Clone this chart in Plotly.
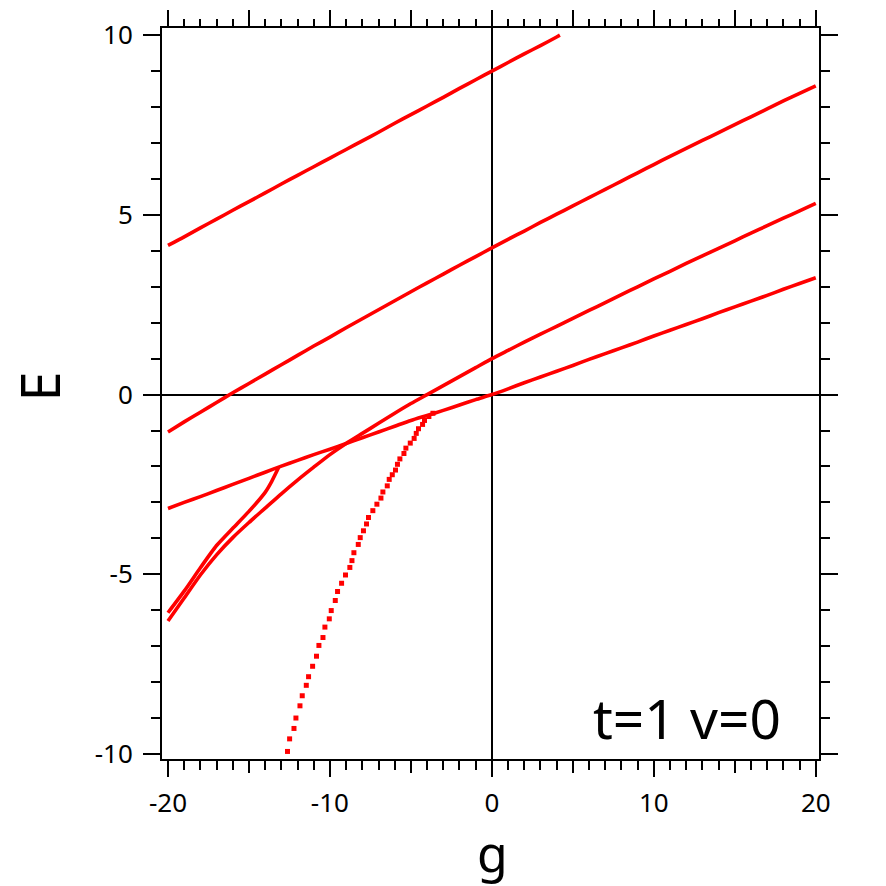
import plotly.graph_objects as go

# ---- data ----
gA = [-20, -19, -18, -17, -16, -15, -14, -13, -12, -11, -10, -9, -8, -7, -6, -5, -4, -3, -2, -1, 0, 1, 2, 3, 4, 4.2]
eA = [4.15, 4.39, 4.64, 4.88, 5.13, 5.37, 5.61, 5.86, 6.10, 6.34, 6.58, 6.82, 7.06, 7.30, 7.55, 7.79, 8.03, 8.27, 8.52, 8.76, 9.00, 9.24, 9.48, 9.71, 9.95, 10.0]

gB = list(range(-20, 21))
eB = [-1.04, -0.76, -0.49, -0.22, 0.05, 0.31, 0.57, 0.83, 1.09, 1.35, 1.60, 1.86, 2.11, 2.36, 2.61, 2.86, 3.11, 3.35, 3.60, 3.84,
      4.08, 4.32, 4.55, 4.79, 5.02, 5.25, 5.48, 5.71, 5.94, 6.17, 6.40, 6.63, 6.85, 7.07, 7.29, 7.51, 7.73, 7.95, 8.17, 8.38, 8.59]

gC = list(range(-20, 21))
eC = [-6.30, -5.66, -5.02, -4.46, -3.98, -3.56, -3.16, -2.76, -2.38, -2.02, -1.67, -1.36, -1.08, -0.80, -0.52, -0.25, 0.00, 0.25, 0.50, 0.75,
      1.00, 1.23, 1.46, 1.68, 1.90, 2.12, 2.34, 2.56, 2.78, 3.00, 3.22, 3.43, 3.65, 3.86, 4.07, 4.28, 4.49, 4.70, 4.91, 5.11, 5.32]

gD = list(range(-20, 21))
eD = [-3.17, -3.00, -2.84, -2.67, -2.50, -2.33, -2.16, -1.99, -1.83, -1.67, -1.52, -1.36, -1.20, -1.04, -0.88, -0.72, -0.58, -0.44, -0.29, -0.14,
      0.00, 0.16, 0.33, 0.49, 0.65, 0.81, 0.98, 1.14, 1.30, 1.46, 1.63, 1.79, 1.95, 2.11, 2.28, 2.44, 2.60, 2.76, 2.93, 3.09, 3.25]

gF = [-20, -19, -18, -17, -16, -15, -14, -13.6, -13.17]
eF = [-6.07, -5.47, -4.82, -4.20, -3.72, -3.25, -2.72, -2.42, -2.03]

# bound-state branch (individual dots)
gS = [-12.62, -12.49, -12.22, -12.10, -11.85, -11.71, -11.46, -11.32, -11.07, -10.83, -10.68, -10.43, -10.31, -10.04,
      -9.92, -9.67, -9.53, -9.28, -9.04, -8.77, -8.64, -8.52, -8.25, -8.13, -7.93, -7.74, -7.62, -7.35, -7.10, -6.85,
      -6.73, -6.46, -6.34, -6.15, -5.95, -5.83, -5.68, -5.43, -5.31, -5.04, -4.80, -4.67, -4.53, -4.28, -4.16, -3.89, -3.64]
eS = [-9.93, -9.58, -9.29, -9.00, -8.66, -8.38, -8.09, -7.85, -7.56, -7.28, -6.98, -6.76, -6.47, -6.24,
      -6.01, -5.73, -5.48, -5.25, -5.02, -4.81, -4.62, -4.40, -4.17, -3.98, -3.79, -3.60, -3.42, -3.23, -3.05, -2.88,
      -2.71, -2.54, -2.36, -2.23, -2.10, -1.94, -1.79, -1.64, -1.49, -1.35, -1.22, -1.08, -0.95, -0.83, -0.72, -0.61, -0.52]

x_tickvals = [-20, -10, 0, 10, 20]
x_ticktext = ["-20", "-10", "0", "10", "20"]
y_tickvals = [-10, -5, 0, 5, 10]
y_ticktext = ["-10", "-5", "0", "5", "10"]

RED = "#ff0000"
FONT = "Noto Sans"

fig = go.Figure()
for gx, ex in [(gA, eA), (gB, eB), (gC, eC), (gD, eD), (gF, eF)]:
    fig.add_trace(go.Scatter(x=gx, y=ex, mode="lines",
                             line=dict(color=RED, width=3.6, shape="spline", smoothing=0.6),
                             showlegend=False, hoverinfo="skip"))
fig.add_trace(go.Scatter(x=gS, y=eS, mode="markers",
                         marker=dict(color=RED, size=5, symbol="square", line=dict(width=0)),
                         showlegend=False, hoverinfo="skip"))
# dummy traces to realise extra tick axes
fig.add_trace(go.Scatter(x=[None], y=[None], xaxis="x2", yaxis="y", showlegend=False))
fig.add_trace(go.Scatter(x=[None], y=[None], xaxis="x3", yaxis="y", showlegend=False))

XR = [-20.37, 20.2]
YR = [-10.14, 10.2]

fig.update_layout(
    width=886, height=886,
    margin=dict(l=162, r=67, t=25, b=127),
    paper_bgcolor="white", plot_bgcolor="white",
    font=dict(family=FONT, color="black"),
    xaxis=dict(range=XR, showline=True, linecolor="black", linewidth=2,
               ticks="outside", tickmode="array", tickvals=x_tickvals, ticktext=x_ticktext,
               ticklen=16, tickwidth=2, tickcolor="black",
               minor=dict(ticks="outside", tickmode="linear", tick0=0, dtick=1, ticklen=9, tickwidth=2, tickcolor="black"),
               showgrid=False, zeroline=True, zerolinecolor="black", zerolinewidth=1.5,
               tickfont=dict(size=26, family=FONT), ticklabelstandoff=4),
    xaxis2=dict(range=XR, overlaying="x", side="bottom", anchor="y", showline=False,
                ticks="outside", tickmode="linear", tick0=0, dtick=5, ticklen=13, tickwidth=2, tickcolor="black",
                showticklabels=False, showgrid=False, zeroline=False),
    xaxis3=dict(range=XR, overlaying="x", side="top", anchor="y", showline=True, linecolor="black", linewidth=2,
                ticks="outside", tickmode="linear", tick0=0, dtick=5, ticklen=16, tickwidth=2, tickcolor="black",
                minor=dict(ticks="outside", tickmode="linear", tick0=0, dtick=1, ticklen=7, tickwidth=2, tickcolor="black"),
                showticklabels=False, showgrid=False, zeroline=False),
    yaxis=dict(range=YR, showline=True, linecolor="black", linewidth=2, mirror="ticks",
               ticks="outside", tickmode="array", tickvals=y_tickvals, ticktext=y_ticktext,
               ticklen=17, tickwidth=2, tickcolor="black",
               minor=dict(ticks="outside", tickmode="linear", tick0=0, dtick=1, ticklen=9, tickwidth=2, tickcolor="black"),
               showgrid=False, zeroline=True, zerolinecolor="black", zerolinewidth=1.5,
               tickfont=dict(size=26, family=FONT), ticklabelstandoff=5),
    annotations=[
        dict(text="g", xref="paper", yref="paper", x=0.5025, y=-0.1285, xanchor="center", yanchor="middle",
             showarrow=False, borderpad=0, font=dict(size=50, family=FONT)),
        dict(text="E", xref="paper", yref="paper", x=-0.187, y=0.5097, xanchor="center", yanchor="middle",
             textangle=-90, showarrow=False, borderpad=0, font=dict(size=54, family=FONT)),
        dict(text="t=1 v=0", xref="paper", yref="paper", x=0.9437, y=0.0562, xanchor="right", yanchor="middle",
             showarrow=False, borderpad=0, font=dict(size=55, family=FONT)),
    ],
)

fig.write_html("out.html")
